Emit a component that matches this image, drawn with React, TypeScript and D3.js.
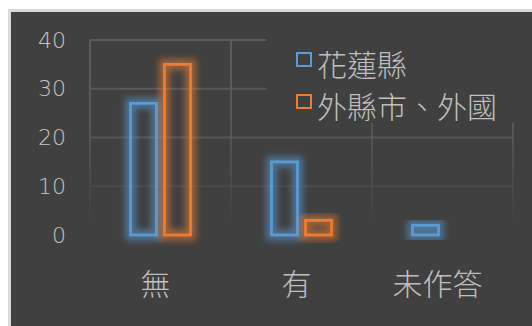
import React from "react";
import * as d3 from "d3";

const categories = ["無", "有", "未作答"];
const seriesNames = ["花蓮縣", "外縣市、外國"];
const hualienValues = [27, 15, 2];
const otherValues = [35, 3, 0];
const yTicks = [0, 10, 20, 30, 40];
const seriesColors = ["#5b9bd5", "#ed7d31"];

const W = 532;
const H = 326;

export default function App() {
  const x0 = d3.scaleBand<string>().domain(categories).range([90, 513]).padding(0);
  const x1 = d3
    .scaleBand<string>()
    .domain(seriesNames)
    .range([-34, 34])
    .paddingInner(0.235)
    .paddingOuter(0.1175);
  const y = d3.scaleLinear().domain([0, 40]).range([235, 40]);
  const series = [hualienValues, otherValues];

  const vLines = [90, 231, 372, 513];
  const legendX = 266;
  const legendBottom = 123;

  return (
    <svg
      width={W}
      height={H}
      style={{ position: "fixed", left: 0, top: 0, display: "block" }}
      fontFamily="'Noto Sans CJK TC', 'Noto Sans', sans-serif"
    >
      <defs>
        <linearGradient id="gridFade" gradientUnits="userSpaceOnUse" x1="0" y1="40" x2="0" y2="225">
          <stop offset="0" stopColor="#5c5c5c" stopOpacity="1" />
          <stop offset="0.5" stopColor="#5c5c5c" stopOpacity="0.8" />
          <stop offset="1" stopColor="#5c5c5c" stopOpacity="0" />
        </linearGradient>
        <filter id="glow" x="-50%" y="-50%" width="200%" height="200%">
          <feGaussianBlur stdDeviation="3.2" />
        </filter>
      </defs>
      <rect x={0} y={0} width={W} height={H} fill="#ffffff" />
      <rect x={8} y={9} width={W - 8} height={H - 9} fill="#d9d9d9" />
      <rect x={11} y={12} width={W - 11} height={H - 12} fill="#404040" />

      {/* gridlines */}
      {yTicks
        .filter((t) => t > 0)
        .map((t) => (
          <line
            key={"h" + t}
            x1={90}
            x2={513}
            y1={y(t)}
            y2={y(t)}
            stroke="url(#gridFade)"
            strokeWidth={2}
          />
        ))}
      {vLines.map((vx) => (
        <rect key={"v" + vx} x={vx - 1} y={40} width={2} height={195} fill="url(#gridFade)" />
      ))}

      {/* legend background hides gridlines */}
      <rect x={legendX} y={12} width={W - legendX} height={legendBottom - 12} fill="#404040" />

      {/* bars */}
      {categories.map((c, ci) => {
        const cx = (x0(c) as number) + x0.bandwidth() / 2;
        return seriesNames.map((s, si) => {
          const v = series[si][ci];
          if (!v) return null;
          const bx = cx + (x1(s) as number);
          const bw = x1.bandwidth();
          const top = y(v);
          const h = y(0) - top;
          return (
            <g key={c + s}>
              <rect
                x={bx}
                y={top}
                width={bw}
                height={h}
                fill="none"
                stroke={seriesColors[si]}
                strokeWidth={11}
                opacity={0.55}
                filter="url(#glow)"
              />
              <rect
                x={bx}
                y={top}
                width={bw}
                height={h}
                fill="none"
                stroke={seriesColors[si]}
                strokeWidth={2.75}
              />
            </g>
          );
        });
      })}

      {/* y tick labels */}
      {yTicks.map((t) => (
        <text
          key={"t" + t}
          x={66}
          y={y(t)}
          textAnchor="end"
          dominantBaseline="central"
          fontSize={22}
          fontWeight={200}
          fill="#c4c4c4"
          fontFamily="'DejaVu Sans', sans-serif"
        >
          {t}
        </text>
      ))}

      {/* category labels */}
      {categories.map((c) => (
        <text
          key={"c" + c}
          x={(x0(c) as number) + x0.bandwidth() / 2 - 5}
          y={282}
          textAnchor="middle"
          dominantBaseline="central"
          fontSize={30}
          fontWeight={300}
          fill="#bfbfbf"
        >
          {c}
        </text>
      ))}

      {/* legend */}
      {seriesNames.map((s, si) => (
        <g key={"l" + s} transform={`translate(296, ${59.5 + si * 42})`}>
          <rect x={1} y={-6.5} width={14} height={13} fill="none" stroke={seriesColors[si]} strokeWidth={2} />
          <text x={21} y={3} dominantBaseline="central" fontSize={30} fontWeight={300} fill="#bfbfbf">
            {s}
          </text>
        </g>
      ))}
    </svg>
  );
}
